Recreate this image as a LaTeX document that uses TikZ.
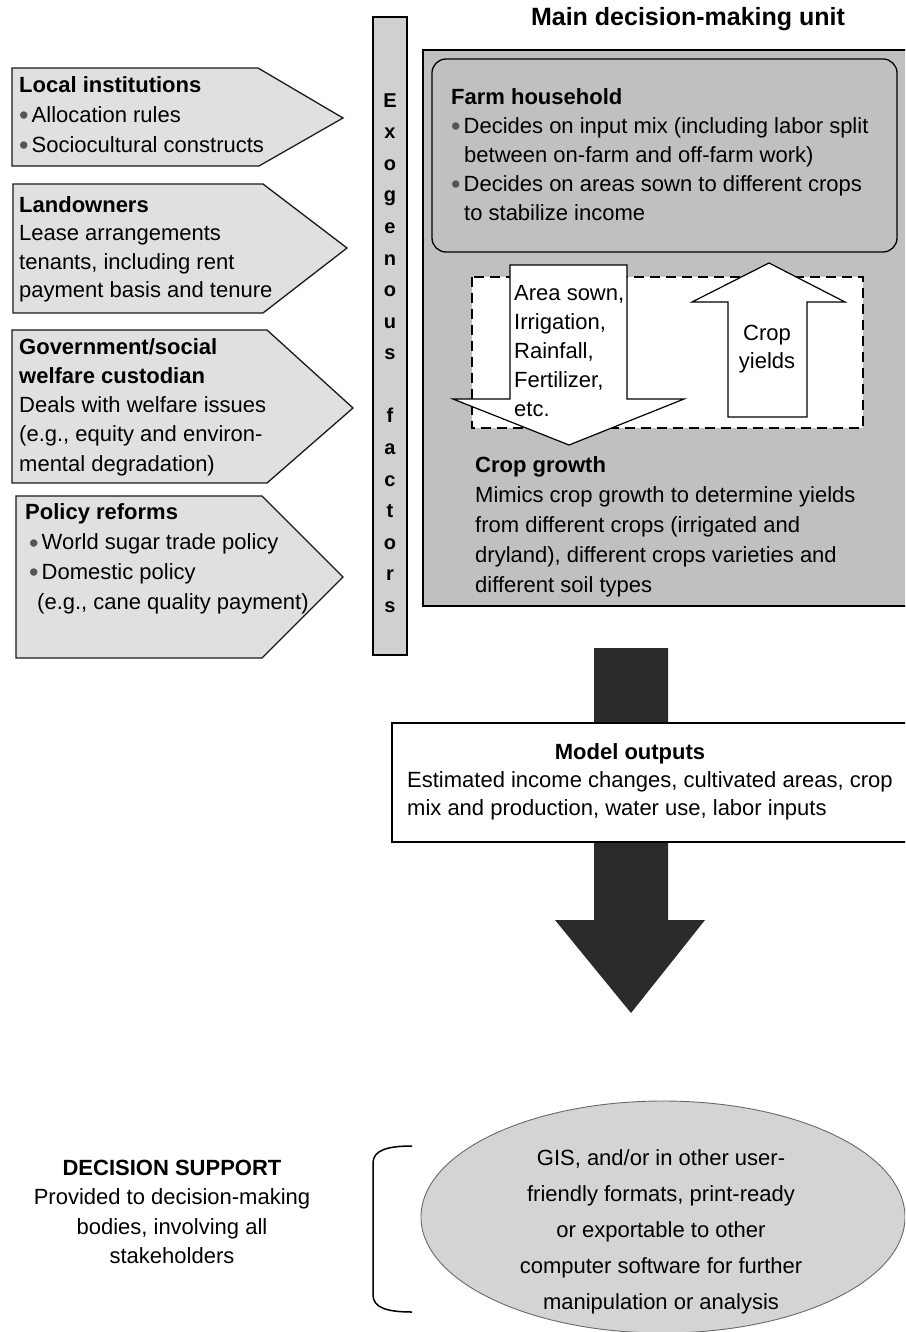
\documentclass[tikz,border=0pt]{standalone}
\usepackage{fontspec}
\setmainfont{Liberation Sans}
\usetikzlibrary{shapes.geometric}

\definecolor{pentfill}{RGB}{224,224,224}
\definecolor{barfill}{RGB}{208,208,208}
\definecolor{unitfill}{RGB}{192,192,192}
\definecolor{darkarrow}{RGB}{43,43,43}
\definecolor{ovalfill}{RGB}{212,212,212}
\definecolor{ovalline}{RGB}{105,105,105}
\definecolor{bulgray}{RGB}{85,85,85}

% body text size with a given line pitch
\newcommand\txtsize[1]{\fontsize{22}{#1}\selectfont}
% grey bullet followed by the hanging gap
\newcommand\dotb{\makebox[12.5pt][l]{\raisebox{-2.5pt}{\fontsize{27}{27}\selectfont\textcolor{bulgray}{\textbullet}}}}

\begin{document}
\begin{tikzpicture}[x=1pt,y=-1pt,
  pent/.style={draw=black!90, line width=1.3pt, fill=pentfill, line join=miter},
  blk/.style={inner sep=0pt, align=left, anchor=north west},
  ctr/.style={inner sep=0pt, align=center, anchor=north},
  whitearrow/.style={draw=black, line width=1.2pt, fill=white, line join=miter},
]
\path[use as bounding box] (0,0) rectangle (905,1332);
\clip (0,0) rectangle (905,1332);

% ---------- external influences (pentagons) ----------
\draw[pent] (12,68) -- (258,68) -- (343,118) -- (259,166) -- (12,166) -- cycle;
\draw[pent] (13,184) -- (263,184) -- (347,248) -- (263,313) -- (13,313) -- cycle;
\draw[pent] (12,330) -- (267,330) -- (353,408) -- (267,483) -- (12,483) -- cycle;
\draw[pent] (16,496) -- (262,496) -- (343,577) -- (262,658) -- (16,658) -- cycle;

\node[blk, font=\txtsize{30}] (inst) at (19,71)
  {\strut\textbf{Local institutions}\\\dotb Allocation rules\\\dotb Sociocultural constructs};
\node[blk, font=\txtsize{28.5}] (land) at (19,192)
  {\strut\textbf{Landowners}\\Lease arrangements\\tenants, including rent\\payment basis and tenure};
\node[blk, font=\txtsize{29.25}] (gov) at (19,333.5)
  {\strut\textbf{Government/social}\\\textbf{welfare custodian}\\Deals with welfare issues\\(e.g., equity and environ-\\mental degradation)};
\node[blk, font=\txtsize{29.7}] (policy) at (25,499)
  {\strut\textbf{Policy reforms}\\\hspace*{4pt}\dotb World sugar trade policy\\\hspace*{4pt}\dotb Domestic policy\\\hspace*{12pt}(e.g., cane quality payment)};

% ---------- vertical bar ----------
\draw[draw=black, line width=1.5pt, fill=barfill] (373,17) rectangle (407,655);
\node[ctr, font=\bfseries\fontsize{20}{31.56}\selectfont] (exo) at (390,85)
  {\strut E\\x\\o\\g\\e\\n\\o\\u\\s\\~\\f\\a\\c\\t\\o\\r\\s};

% ---------- main decision-making unit ----------
\node[font=\bfseries\fontsize{25}{30}\selectfont, inner sep=0pt] (title) at (688,19) {Main decision-making unit};
\draw[draw=black, line width=1.5pt, fill=unitfill] (423,50) rectangle (915,606);
\draw[draw=black, line width=1.3pt, fill=unitfill, rounded corners=14pt] (432,59) rectangle (897,252);
\node[blk, font=\txtsize{29}] (farm) at (451,83.7)
  {\strut\textbf{Farm household}\\\dotb Decides on input mix (including labor split\\\hspace*{13pt}between on-farm and off-farm work)\\\dotb Decides on areas sown to different crops\\\hspace*{13pt}to stabilize income};

\draw[draw=black, line width=1.2pt, dash pattern=on 10pt off 6pt, fill=white] (472,277) rectangle (863,428);

% block arrows between household and crop model
\draw[whitearrow] (510,265) -- (627,265) -- (627,399) -- (684,399) -- (569,445) -- (453,399) -- (510,399) -- cycle;
\draw[whitearrow] (728,417) -- (807,417) -- (807,302) -- (845,302) -- (769,263) -- (692,302) -- (728,302) -- cycle;
\node[blk, font=\txtsize{29}] (inputs) at (514,279.7)
  {\strut Area sown,\\Irrigation,\\Rainfall,\\Fertilizer,\\etc.};
\node[inner sep=0pt, align=center, font=\txtsize{28}] (yields) at (767,349) {Crop\\yields};

\node[blk, font=\txtsize{30}] (crop) at (475,451)
  {\strut\textbf{Crop growth}\\Mimics crop growth to determine yields\\from different crops (irrigated and\\dryland), different crops varieties and\\different soil types};

% ---------- outputs ----------
\fill[darkarrow] (594,648) -- (668,648) -- (668,920) -- (705,920) -- (631,1013) -- (555,920) -- (594,920) -- cycle;
\draw[draw=black, line width=1.3pt, fill=white] (392,723) rectangle (915,842);
\node[anchor=base, inner sep=0pt, font=\bfseries\txtsize{28}] (outhead) at (630,759) {Model outputs};
\node[blk, font=\txtsize{28}] (outtext) at (407,767.4)
  {\strut Estimated income changes, cultivated areas, crop\\mix and production, water use, labor inputs};

% ---------- decision support ----------
\node[ctr, font=\txtsize{29.5}] (support) at (172,1154.3)
  {\strut\textbf{DECISION SUPPORT}\\Provided to decision-making\\bodies, involving all\\stakeholders};
\draw[line width=1.5pt] (412,1146) .. controls (388,1146) and (373,1150) .. (373,1163)
  -- (373,1295) .. controls (373,1308) and (388,1312) .. (412,1312);
\draw[draw=ovalline, line width=0.9pt, fill=ovalfill] (663,1217) ellipse [x radius=242pt, y radius=116pt];
\node[ctr, font=\txtsize{36}] (formats) at (661,1139.8)
  {\strut GIS, and/or in other user-\\friendly formats, print-ready\\or exportable to other\\computer software for further\\manipulation or analysis};
\end{tikzpicture}
\end{document}
